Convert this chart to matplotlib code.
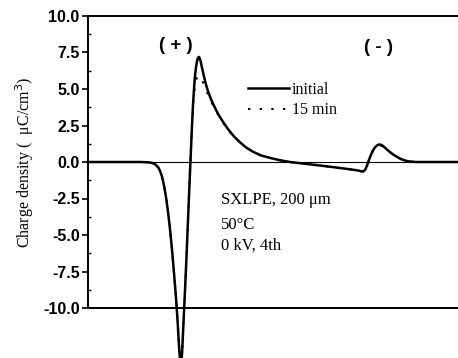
import matplotlib
matplotlib.use('Agg')
import matplotlib.pyplot as plt
import numpy as np

# position across the sample (arbitrary units), charge density in uC/cm^3
position = [0, 52, 60, 64, 67, 70, 72, 74, 76, 78, 80, 82, 84, 86, 88, 89.5,
            91, 92.5, 94, 95.5, 97, 98.5, 100, 101, 102, 103, 104, 105, 106,
            107, 108, 109, 110, 111, 112, 113, 114, 116, 118, 120, 123, 126,
            130, 135, 140, 146, 152, 158, 165, 173, 182, 192, 202, 212, 227,
            245, 262, 270, 273, 275, 277, 279, 281, 283, 285, 287, 289, 291,
            293, 295, 297, 299, 302, 305, 309, 313, 318, 322, 328, 342, 370]
initial = [0, 0, -0.02, -0.06, -0.15, -0.35, -0.6, -1.0, -1.6, -2.4, -3.4,
           -4.6, -6.0, -7.6, -9.3, -10.8, -12.6, -14.0, -13.2, -11.0, -8.8,
           -6.5, -4.0, -2.3, -0.7, 0.9, 2.5, 3.9, 5.0, 5.9, 6.5, 6.9, 7.15,
           7.2, 7.05, 6.8, 6.45, 5.85, 5.3, 4.85, 4.3, 3.85, 3.3, 2.75, 2.25,
           1.75, 1.35, 1.0, 0.7, 0.45, 0.28, 0.12, 0.0, -0.08, -0.2, -0.35,
           -0.5, -0.58, -0.63, -0.66, -0.55, -0.25, 0.15, 0.5, 0.8, 1.0, 1.13,
           1.2, 1.18, 1.1, 0.98, 0.85, 0.68, 0.52, 0.35, 0.2, 0.08, 0.03, 0.0,
           0.0, 0.0]
min15 = [0, 0, -0.02, -0.06, -0.15, -0.35, -0.6, -1.0, -1.6, -2.4, -3.4,
         -4.6, -6.0, -7.6, -9.3, -10.8, -12.6, -14.0, -13.2, -11.0, -8.8,
         -6.5, -4.0, -2.3, -0.7, 0.9, 2.4, 3.7, 4.6, 5.2, 5.6, 5.8, 5.9,
         5.9, 5.85, 5.75, 5.6, 5.3, 4.95, 4.6, 4.15, 3.75, 3.25, 2.7, 2.2,
         1.72, 1.33, 1.0, 0.7, 0.45, 0.28, 0.12, 0.0, -0.08, -0.2, -0.35,
         -0.5, -0.58, -0.63, -0.65, -0.55, -0.25, 0.12, 0.45, 0.74, 0.93,
         1.05, 1.1, 1.1, 1.04, 0.94, 0.82, 0.66, 0.5, 0.33, 0.2, 0.08, 0.03,
         0.0, 0.0, 0.0]

yticks = [-10.0, -7.5, -5.0, -2.5, 0.0, 2.5, 5.0, 7.5, 10.0]

fig = plt.figure(figsize=(4.58, 3.58), dpi=100)
ax = fig.add_axes([88/458, 50/358, 370/458, 292/358])

ax.axhline(0, color='black', lw=0.8)
ax.plot(position, initial, color='black', lw=1.8, label='initial', clip_on=False)
ax.plot(position, min15, color='black', lw=1.4, ls=(0, (1.2, 4.8)),
        label='15 min', clip_on=False)

ax.set_xlim(0, 370)
ax.set_ylim(-10, 10)
ax.set_xticks([])
ax.set_yticks(yticks)
ax.set_yticklabels(['%.1f' % v for v in yticks], fontfamily='Liberation Sans',
                   fontweight='bold', fontsize=11.5)
ax.set_yticks(np.arange(-10, 10.01, 1.25), minor=True)
ax.tick_params(axis='y', which='major', direction='out', length=4, width=1.2, pad=2)
ax.tick_params(axis='y', which='minor', direction='in', length=2.5, width=1)

for s in ['left', 'top', 'bottom']:
    ax.spines[s].set_linewidth(1.4)
ax.spines['right'].set_visible(False)

ax.set_ylabel('Charge density (  \u03bcC/cm$^3$)', fontfamily='Liberation Serif',
              fontsize=11.5, labelpad=5)

ax.text(88, 8.0, '( + )', ha='center', va='center', fontfamily='Liberation Sans',
        fontweight='bold', fontsize=13.5)
ax.text(290, 7.85, '( - )', ha='center', va='center', fontfamily='Liberation Sans',
        fontweight='bold', fontsize=13.5)

ax.text(133, -2.6, 'SXLPE, 200 \u03bcm', ha='left', va='center',
        fontfamily='Liberation Serif', fontsize=12)
ax.text(133, -4.3, '50\u00b0C', ha='left', va='center',
        fontfamily='Liberation Serif', fontsize=12)
ax.text(133, -5.7, '0 kV, 4th', ha='left', va='center',
        fontfamily='Liberation Serif', fontsize=12)

leg = ax.legend(loc='upper left', bbox_to_anchor=(0.432, 0.775), frameon=False,
                handlelength=2.6, handletextpad=0.15, labelspacing=0.3,
                borderpad=0, borderaxespad=0,
                prop={'family': 'Liberation Serif', 'size': 11.5})

fig.savefig('out.png', dpi=100)
